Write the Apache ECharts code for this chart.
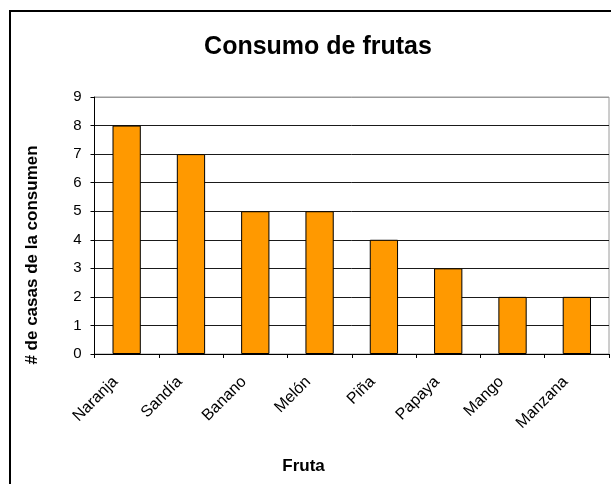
<!DOCTYPE html>
<html>
<head>
<meta charset="utf-8">
<script src="https://cdn.jsdelivr.net/npm/echarts@6/dist/echarts.min.js"></script>
<style>
  html, body { margin: 0; padding: 0; background: #fff; }
  #chart { width: 611px; height: 484px; }
</style>
</head>
<body>
<div id="chart"></div>
<script>
// Fruit consumption: number of households per fruit
const frutas = ['Naranja', 'Sandía', 'Banano', 'Melón', 'Piña', 'Papaya', 'Mango', 'Manzana'];
const casas = [8, 7, 5, 5, 4, 3, 2, 2];
const yTicks = [0, 1, 2, 3, 4, 5, 6, 7, 8, 9];

const FONT = '"Liberation Sans", Arial, sans-serif';

const chart = echarts.init(document.getElementById('chart'), null, { renderer: 'canvas' });

// grid lines: dark for interior values, gray for the top edge of the plot
const splitColors = yTicks.map((v, i) => (i === yTicks.length - 1 ? '#9a9a9a' : '#1a1a1a'));

chart.setOption({
  backgroundColor: '#ffffff',
  animation: false,
  title: {
    text: 'Consumo de frutas',
    left: 313,
    top: 30,
    textAlign: 'center',
    textStyle: { fontFamily: FONT, fontSize: 25, fontWeight: 'bold', color: '#000' }
  },
  grid: {
    left: 94.5,
    right: 2,
    top: 97,
    bottom: 130,
    show: true,
    borderColor: '#9a9a9a',
    borderWidth: 1,
    backgroundColor: 'transparent'
  },
  xAxis: {
    type: 'category',
    data: frutas,
    axisLine: { lineStyle: { color: '#000', width: 1 } },
    axisTick: { show: true, length: 4, lineStyle: { color: '#000' } },
    axisLabel: {
      rotate: 45,
      margin: 14,
      padding: [0, 16, 0, 0],
      fontFamily: FONT,
      fontSize: 16,
      color: '#000'
    }
  },
  yAxis: {
    type: 'value',
    min: yTicks[0],
    max: yTicks[yTicks.length - 1],
    interval: 1,
    axisLine: { show: true, lineStyle: { color: '#000', width: 1 } },
    axisTick: { show: true, length: 4, lineStyle: { color: '#000' } },
    axisLabel: { margin: 13, fontFamily: FONT, fontSize: 15, color: '#000' },
    splitLine: { show: true, lineStyle: { color: splitColors, width: 1 } }
  },
  series: [{
    type: 'bar',
    data: casas,
    barWidth: '44%',
    itemStyle: { color: '#FF9900', borderColor: '#000', borderWidth: 1 }
  }],
  graphic: [
    // outer chart-area frame (top and left edges)
    { type: 'line', shape: { x1: 9, y1: 11, x2: 611, y2: 11 }, style: { stroke: '#000', lineWidth: 2 } },
    { type: 'line', shape: { x1: 10, y1: 10, x2: 10, y2: 484 }, style: { stroke: '#000', lineWidth: 2 } },
    // axis titles
    {
      type: 'text', x: 303.5, y: 466,
      style: { text: 'Fruta', font: 'bold 17px ' + FONT, fill: '#000', align: 'center', verticalAlign: 'middle' }
    },
    {
      type: 'text', x: 32, y: 255, rotation: Math.PI / 2,
      style: { text: '# de casas de la consumen', font: 'bold 17px ' + FONT, fill: '#000', align: 'center', verticalAlign: 'middle' }
    }
  ]
});
</script>
</body>
</html>
